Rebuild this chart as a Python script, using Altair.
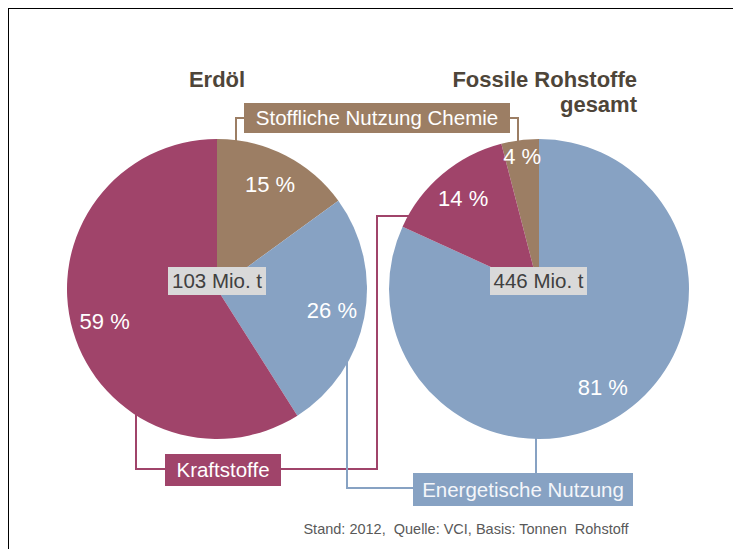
import altair as alt
import pandas as pd

# ---------------- data ----------------
categories = ["Stoffliche Nutzung Chemie", "Energetische Nutzung", "Kraftstoffe"]
colors = ["#9C7E64", "#87A2C3", "#A0446A"]

erdoel_pct = [15, 26, 59]          # clockwise from 12 o'clock: Chemie, Energie, Kraftstoffe
erdoel_order = [1, 2, 3]
fossil_pct = [4, 81, 14]           # clockwise from 12 o'clock: Energie, Kraftstoffe, Chemie
fossil_order = [3, 1, 2]

pie_titles = ["Erdöl", "Fossile Rohstoffe", "gesamt"]
totals = ["103 Mio. t", "446 Mio. t"]
footer = "Stand: 2012,\u00a0 Quelle: VCI, Basis: Tonnen\u00a0 Rohstoff"

FONT = "Liberation Sans"
OFF = 8  # page margin; layout below is in page pixels


def P(v):
    return v - OFF


df_left = pd.DataFrame({"cat": categories, "pct": erdoel_pct, "ord": erdoel_order})
df_right = pd.DataFrame({"cat": categories, "pct": fossil_pct, "ord": fossil_order})

# ---------------- layout ----------------
left_c = (217, 289)
right_c = (539, 289)
R = 150

color_scale = alt.Scale(domain=categories, range=colors)


def pie(df, c, lab_r, small_r):
    base = alt.Chart(df).encode(
        theta=alt.Theta("pct:Q", stack=True),
        order=alt.Order("ord:Q"),
    )
    arc = base.mark_arc(outerRadius=R).encode(
        color=alt.Color("cat:N", scale=color_scale, legend=None),
        x=alt.value(P(c[0])), y=alt.value(P(c[1])),
    )
    txt = base.transform_calculate(lab="datum.pct + ' %'").mark_text(
        radius=lab_r, fontSize=22, font=FONT, color="white"
    ).encode(
        text=alt.condition("datum.pct >= 5", "lab:N", alt.value("")),
        x=alt.value(P(c[0])), y=alt.value(P(c[1])),
    )
    txt_small = base.transform_calculate(lab="datum.pct + ' %'").mark_text(
        radius=small_r, fontSize=22, font=FONT, color="white"
    ).encode(
        text=alt.condition("datum.pct < 5", "lab:N", alt.value("")),
        x=alt.value(P(c[0])), y=alt.value(P(c[1])),
    )
    return [arc, txt, txt_small]


# connectors (polyline points, page pixels)
connectors = [
    ("brownL", colors[0], [(236, 141), (236, 118), (244, 118)]),
    ("brownR", colors[0], [(510, 118), (518, 118), (518, 142)]),
    ("redL", colors[2], [(136, 410), (136, 469), (165, 469)]),
    ("redR", colors[2], [(281, 469), (377, 469), (377, 216), (412, 216)]),
    ("blueL", colors[1], [(347, 360), (347, 488), (413, 488)]),
    ("blueR", colors[1], [(536, 430), (536, 473)]),
]
rows = []
for name, col, pts in connectors:
    for i, (x, y) in enumerate(pts):
        rows.append({"seg": name, "col": col, "i": i, "x": P(x), "y": P(y)})
conn_df = pd.DataFrame(rows)

lines = alt.Chart(conn_df).mark_line(strokeWidth=2, interpolate="linear").encode(
    x=alt.X("x:Q", scale=None, axis=None),
    y=alt.Y("y:Q", scale=None, axis=None),
    detail="seg:N",
    order="i:Q",
    color=alt.Color("col:N", scale=None),
)

# label boxes
box_rows = [
    {"lab": categories[0], "x": 244, "x2": 510, "y": 103, "y2": 133, "fill": colors[0], "tc": "white"},
    {"lab": categories[2], "x": 165, "x2": 281, "y": 454, "y2": 486, "fill": colors[2], "tc": "white"},
    {"lab": categories[1], "x": 413, "x2": 633, "y": 473, "y2": 506, "fill": colors[1], "tc": "#F4F6FA"},
    {"lab": totals[0], "x": 168, "x2": 266, "y": 267, "y2": 295, "fill": "#D9D9D9", "tc": "#404040"},
    {"lab": totals[1], "x": 490, "x2": 587, "y": 267, "y2": 295, "fill": "#D9D9D9", "tc": "#404040"},
]
box_df = pd.DataFrame(box_rows)
for k in ["x", "x2", "y", "y2"]:
    box_df[k] = box_df[k] - OFF
box_df["cx"] = (box_df["x"] + box_df["x2"]) / 2
box_df["cy"] = (box_df["y"] + box_df["y2"]) / 2 + 1

boxes = alt.Chart(box_df).mark_rect().encode(
    x=alt.X("x:Q", scale=None, axis=None), x2="x2:Q",
    y=alt.Y("y:Q", scale=None, axis=None), y2="y2:Q",
    fill=alt.Fill("fill:N", scale=None),
)
box_text = alt.Chart(box_df).mark_text(fontSize=20.5, font=FONT, align="center", baseline="middle").encode(
    x=alt.X("cx:Q", scale=None, axis=None),
    y=alt.Y("cy:Q", scale=None, axis=None),
    text="lab:N",
    color=alt.Color("tc:N", scale=None),
)

one = pd.DataFrame({"k": [0]})
TITLE_COL = "#4E4539"
t1 = alt.Chart(one).mark_text(text=pie_titles[0], fontSize=22, fontWeight="bold", font=FONT,
                              color=TITLE_COL, align="center", baseline="alphabetic").encode(
    x=alt.value(P(217)), y=alt.value(P(87)))
t2 = alt.Chart(one).mark_text(text=pie_titles[1], fontSize=22, fontWeight="bold", font=FONT,
                              color=TITLE_COL, align="right", baseline="alphabetic").encode(
    x=alt.value(P(637)), y=alt.value(P(87)))
t3 = alt.Chart(one).mark_text(text=pie_titles[2], fontSize=22, fontWeight="bold", font=FONT,
                              color=TITLE_COL, align="right", baseline="alphabetic").encode(
    x=alt.value(P(637)), y=alt.value(P(112)))
foot = alt.Chart(one).mark_text(text=footer, fontSize=14.5, font=FONT, color="#595959",
                                align="center", baseline="middle").encode(
    x=alt.value(P(466)), y=alt.value(P(530)))

# frame (top and left edge)
frame_top = alt.Chart(one).mark_rule(color="black", strokeWidth=2).encode(
    x=alt.value(-1), x2=alt.value(740), y=alt.value(0))
frame_left = alt.Chart(one).mark_rule(color="black", strokeWidth=2).encode(
    x=alt.value(0), y=alt.value(-1), y2=alt.value(560))

layers = [frame_top, frame_left, lines]
layers += pie(df_left, left_c, 117, 117)
layers += pie(df_right, right_c, 118, 133)
layers += [boxes, box_text, t1, t2, t3, foot]

chart = alt.layer(*layers).resolve_scale(theta="independent").properties(
    width=725, height=541, padding=0, autosize="none"
).configure_view(stroke=None).configure(background="white")

chart.save("out.html", embed_options={"renderer": "svg", "actions": False})
